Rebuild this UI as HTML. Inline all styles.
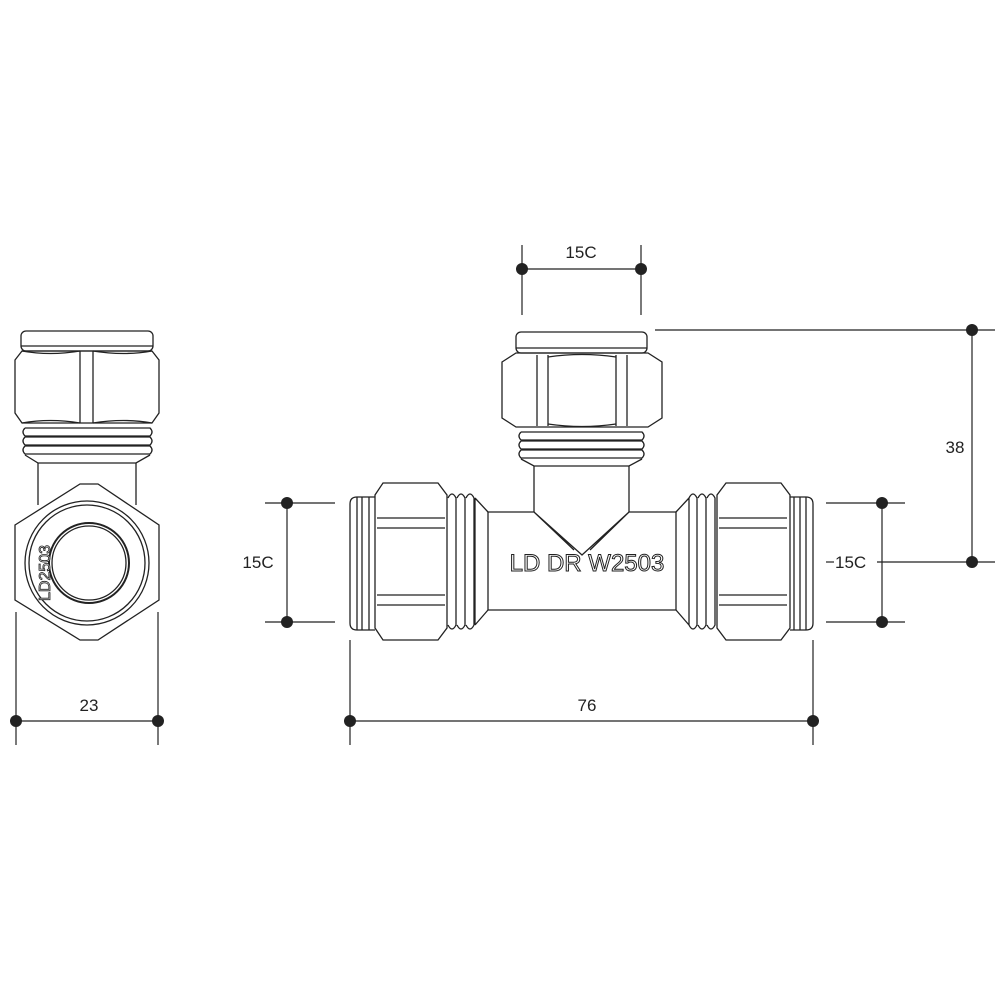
<!DOCTYPE html>
<html><head><style>html,body{margin:0;padding:0;background:#fff}svg{display:block}</style></head>
<body>
<svg width="1000" height="1000" viewBox="0 0 1000 1000" xmlns="http://www.w3.org/2000/svg" fill="none" stroke="#222" stroke-width="1.3" font-family="Liberation Sans, sans-serif">
<!-- LEFT VIEW -->
<rect x="21" y="331" width="132" height="20" rx="5"/>
<line x1="21" y1="346" x2="153" y2="346"/>
<path d="M15 360 L22 351 H152 L159 360 V413 L152 423 H22 L15 413 Z"/>
<path d="M22 351 Q50 356 80 351 M93 351 Q124 356 152 351 M22 423 Q50 418 80 423 M93 423 Q124 418 152 423"/>
<line x1="80" y1="351" x2="80" y2="423"/><line x1="93" y1="351" x2="93" y2="423"/>
<path d="M25 428 H150 Q154 432 150 436 H25 Q21 432 25 428 M25 437 H150 Q154 441 150 445 H25 Q21 441 25 437 M25 446 H150 Q154 450 150 454 H25 Q21 450 25 446 M25 455 L38 463 H136 L150 455"/>
<line x1="38" y1="463" x2="38" y2="505"/><line x1="136" y1="463" x2="136" y2="505"/>
<path d="M15 525 L80 484 H98 L159 525 V600 L98 640 H80 L15 600 Z" fill="#fff"/>
<circle cx="87" cy="563" r="62"/><circle cx="87" cy="563" r="58"/>
<circle cx="89" cy="563" r="40" stroke-width="2"/><circle cx="89" cy="563" r="37"/>
<text x="0" y="0" transform="translate(50,601) rotate(-90)" font-size="16" fill="#fff" stroke="#222" stroke-width="0.8">LD2503</text>
<!-- MAIN VIEW -->
<rect x="516" y="332" width="131" height="21" rx="5"/>
<line x1="516" y1="348" x2="647" y2="348"/>
<path d="M502 362 L516 353 H648 L662 362 V418 L648 427 H516 L502 418 Z"/>
<line x1="537" y1="355" x2="537" y2="426"/><line x1="548" y1="355" x2="548" y2="426"/>
<line x1="616" y1="355" x2="616" y2="426"/><line x1="627" y1="355" x2="627" y2="426"/>
<path d="M548 357 Q582 352 616 357 M548 424 Q582 429 616 424"/>
<path d="M521 432 H642 Q646 436 642 440 H521 Q517 436 521 432 M521 441 H642 Q646 445 642 449 H521 Q517 445 521 441 M521 450 H642 Q646 454 642 458 H521 Q517 454 521 450 M521 459 L534 466 H629 L642 459"/>
<line x1="534" y1="466" x2="534" y2="512"/><line x1="629" y1="466" x2="629" y2="512"/>
<path d="M488 512 H534 L582 555 L629 512 H676 M488 610 H676 M534 512 L574 550 M629 512 L590 550"/>
<line x1="488" y1="512" x2="488" y2="610"/><line x1="676" y1="512" x2="676" y2="610"/>
<text x="587" y="571" font-size="24" text-anchor="middle" fill="#fff" stroke="#222" stroke-width="1">LD DR W2503</text>
<!-- left nut -->
<path d="M375 497 H357 Q350 497 350 504 V623 Q350 630 357 630 H375"/>
<line x1="357" y1="497" x2="357" y2="630"/><line x1="362" y1="497" x2="362" y2="630"/><line x1="369" y1="497" x2="369" y2="630"/>
<path d="M383 483 H438 L447 495 V628 L438 640 H383 L375 628 V495 Z"/>
<path d="M377 518 H445 M377 528 H445 M377 595 H445 M377 605 H445"/>
<path d="M448 498 Q452 490 456 498 V625 Q452 633 448 625 M457 498 Q461 490 465 498 V625 Q461 633 457 625 M466 498 Q470 490 474 498 V625 Q470 633 466 625 M475 498 L488 512 M475 625 L488 610 M475 498 V625"/>
<!-- right nut -->
<path d="M790 497 H806 Q813 497 813 504 V623 Q813 630 806 630 H790"/>
<line x1="806" y1="497" x2="806" y2="630"/><line x1="800" y1="497" x2="800" y2="630"/><line x1="794" y1="497" x2="794" y2="630"/>
<path d="M726 483 H781 L790 495 V628 L781 640 H726 L717 628 V495 Z"/>
<path d="M719 518 H787 M719 528 H787 M719 595 H787 M719 605 H787"/>
<path d="M689 498 Q693 490 697 498 V625 Q693 633 689 625 M698 498 Q702 490 706 498 V625 Q702 633 698 625 M707 498 Q711 490 715 498 V625 Q711 633 707 625 M689 498 L676 512 M689 625 L676 610 M689 498 V625"/>
<!-- DIMENSIONS -->
<g stroke-width="1.2">
<line x1="522" y1="245" x2="522" y2="315"/><line x1="641" y1="245" x2="641" y2="315"/><line x1="522" y1="269" x2="641" y2="269"/>
<line x1="655" y1="330" x2="995" y2="330"/><line x1="972" y1="330" x2="972" y2="562"/><line x1="877" y1="562" x2="995" y2="562"/>
<line x1="826" y1="503" x2="905" y2="503"/><line x1="826" y1="622" x2="905" y2="622"/><line x1="882" y1="503" x2="882" y2="622"/><line x1="826" y1="562" x2="834" y2="562"/>
<line x1="265" y1="503" x2="335" y2="503"/><line x1="265" y1="622" x2="335" y2="622"/><line x1="287" y1="503" x2="287" y2="622"/>
<line x1="350" y1="640" x2="350" y2="745"/><line x1="813" y1="640" x2="813" y2="745"/><line x1="350" y1="721" x2="813" y2="721"/>
<line x1="16" y1="612" x2="16" y2="745"/><line x1="158" y1="612" x2="158" y2="745"/><line x1="16" y1="721" x2="158" y2="721"/>
</g>
<g fill="#222" stroke="none">
<circle cx="522" cy="269" r="6"/><circle cx="641" cy="269" r="6"/>
<circle cx="972" cy="330" r="6"/><circle cx="972" cy="562" r="6"/>
<circle cx="882" cy="503" r="6"/><circle cx="882" cy="622" r="6"/>
<circle cx="287" cy="503" r="6"/><circle cx="287" cy="622" r="6"/>
<circle cx="350" cy="721" r="6"/><circle cx="813" cy="721" r="6"/>
<circle cx="16" cy="721" r="6"/><circle cx="158" cy="721" r="6"/>
<g font-size="17">
<text x="581" y="258" text-anchor="middle">15C</text>
<text x="955" y="453" text-anchor="middle">38</text>
<text x="835" y="568">15C</text>
<text x="258" y="568" text-anchor="middle">15C</text>
<text x="587" y="711" text-anchor="middle">76</text>
<text x="89" y="711" text-anchor="middle">23</text>
</g>
</g>
</svg>
</body></html>
